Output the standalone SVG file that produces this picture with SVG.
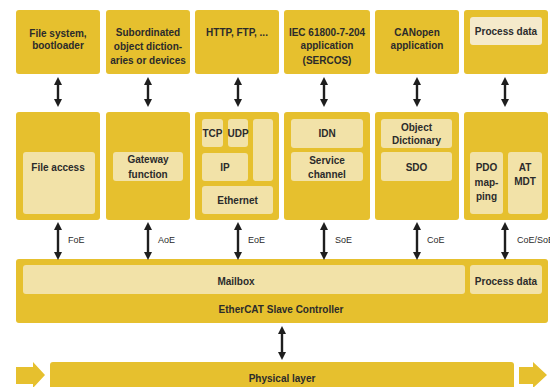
<svg xmlns="http://www.w3.org/2000/svg" width="550" height="387" viewBox="0 0 550 387">
<defs>
<style>
.box{fill:#E6C02E;}
.in{fill:#F2E2A8;}
.in2{fill:#F5EACB;}
text{font-family:"Liberation Sans","DejaVu Sans",sans-serif;font-size:10px;font-weight:bold;fill:#2b2b2b;text-anchor:middle;dominant-baseline:central;}
.lbl{font-weight:normal;font-size:9px;text-anchor:start;}
.arr{stroke:#1e1e1e;stroke-width:2.4;fill:none;marker-start:url(#ah);marker-end:url(#ah);}
</style>
<marker id="ah" markerUnits="userSpaceOnUse" markerWidth="8" markerHeight="8" refX="2" refY="4" orient="auto-start-reverse">
<path d="M0,0 L8,4 L0,8 z" fill="#1e1e1e"/>
</marker>
</defs>
<rect width="550" height="387" fill="#ffffff"/>

<g id="top-filesystem">
<rect class="box" x="16" y="10" width="84" height="64" rx="3"/>
<text x="58" y="33">File system,</text>
<text x="58" y="45">bootloader</text>
</g>
<g id="top-subordinated">
<rect class="box" x="106" y="10" width="84" height="64" rx="3"/>
<text x="148" y="32">Subordinated</text>
<text x="148" y="46">object diction-</text>
<text x="148" y="60">aries or devices</text>
</g>
<g id="top-http">
<rect class="box" x="195" y="10" width="84" height="64" rx="3"/>
<text x="237" y="32">HTTP, FTP, ...</text>
</g>
<g id="top-iec">
<rect class="box" x="284" y="10" width="86" height="64" rx="3"/>
<text x="327" y="32">IEC 61800-7-204</text>
<text x="327" y="45">application</text>
<text x="327" y="60">(SERCOS)</text>
</g>
<g id="top-canopen">
<rect class="box" x="375" y="10" width="84" height="64" rx="3"/>
<text x="417" y="32">CANopen</text>
<text x="417" y="45">application</text>
</g>
<g id="top-processdata">
<rect class="box" x="464" y="10" width="84" height="64" rx="3"/>
<rect class="in2" x="470" y="17" width="72" height="28" rx="3"/>
<text x="506" y="31">Process data</text>
</g>

<g id="mid-fileaccess">
<rect class="box" x="16" y="112" width="84" height="108" rx="3"/>
<rect class="in" x="23" y="152" width="72" height="62" rx="3"/>
<text x="58" y="167">File access</text>
</g>
<g id="mid-gateway">
<rect class="box" x="106" y="112" width="84" height="108" rx="3"/>
<rect class="in" x="113" y="152" width="70" height="29" rx="3"/>
<text x="148" y="159">Gateway</text>
<text x="148" y="174">function</text>
</g>
<g id="mid-eoe">
<rect class="box" x="195" y="112" width="84" height="108" rx="3"/>
<rect class="in" x="202" y="119" width="21" height="28" rx="3"/>
<text x="212.5" y="133">TCP</text>
<rect class="in" x="228" y="119" width="20" height="28" rx="3"/>
<text x="238" y="133">UDP</text>
<rect class="in" x="253" y="119" width="20" height="62" rx="3"/>
<rect class="in" x="202" y="153" width="46" height="28" rx="3"/>
<text x="225" y="167">IP</text>
<rect class="in" x="202" y="186" width="71" height="28" rx="3"/>
<text x="237.5" y="200">Ethernet</text>
</g>
<g id="mid-soe">
<rect class="box" x="284" y="112" width="86" height="108" rx="3"/>
<rect class="in" x="291" y="119" width="72" height="29" rx="3"/>
<text x="327" y="133">IDN</text>
<rect class="in" x="291" y="152" width="72" height="29" rx="3"/>
<text x="327" y="160">Service</text>
<text x="327" y="174">channel</text>
</g>
<g id="mid-coe">
<rect class="box" x="375" y="112" width="84" height="108" rx="3"/>
<rect class="in" x="381" y="119" width="71" height="29" rx="3"/>
<text x="416.5" y="127">Object</text>
<text x="416.5" y="140">Dictionary</text>
<rect class="in" x="381" y="152" width="71" height="29" rx="3"/>
<text x="416.5" y="167">SDO</text>
</g>
<g id="mid-pdo">
<rect class="box" x="464" y="112" width="84" height="108" rx="3"/>
<rect class="in" x="470" y="152" width="33" height="62" rx="3"/>
<text x="486.5" y="167">PDO</text>
<text x="486.5" y="182">map-</text>
<text x="486.5" y="196">ping</text>
<rect class="in" x="508" y="152" width="34" height="62" rx="3"/>
<text x="525" y="167">AT</text>
<text x="525" y="181">MDT</text>
</g>

<g id="controller">
<rect class="box" x="16" y="259" width="532" height="64" rx="3"/>
<rect class="in" x="23" y="265" width="442" height="29" rx="3"/>
<text x="236" y="281">Mailbox</text>
<rect class="in" x="470" y="265" width="72" height="29" rx="3"/>
<text x="506" y="281">Process data</text>
<text x="281" y="309">EtherCAT Slave Controller</text>
</g>

<g id="physical">
<rect class="box" x="50" y="362" width="464" height="30" rx="3"/>
<text x="282" y="378">Physical layer</text>
<path class="box" d="M16,367 L33,367 L33,362 L45,375 L33,388 L33,384 L16,384 z"/>
<path class="box" d="M519,367 L533,367 L533,362 L547,375 L533,388 L533,384 L519,384 z"/>
</g>

<g id="connectors">
<line class="arr" x1="58" y1="83" x2="58" y2="101"/>
<line class="arr" x1="148" y1="83" x2="148" y2="101"/>
<line class="arr" x1="238" y1="83" x2="238" y2="101"/>
<line class="arr" x1="324" y1="83" x2="324" y2="101"/>
<line class="arr" x1="417" y1="83" x2="417" y2="101"/>
<line class="arr" x1="505" y1="83" x2="505" y2="101"/>
<line class="arr" x1="58" y1="228" x2="58" y2="254"/>
<line class="arr" x1="148" y1="228" x2="148" y2="254"/>
<line class="arr" x1="238" y1="228" x2="238" y2="254"/>
<line class="arr" x1="324" y1="228" x2="324" y2="254"/>
<line class="arr" x1="417" y1="228" x2="417" y2="254"/>
<line class="arr" x1="505" y1="228" x2="505" y2="254"/>
<line class="arr" x1="282" y1="332" x2="282" y2="354"/>
<text class="lbl" x="68" y="240">FoE</text>
<text class="lbl" x="158" y="240">AoE</text>
<text class="lbl" x="248" y="240">EoE</text>
<text class="lbl" x="335" y="240">SoE</text>
<text class="lbl" x="427" y="240">CoE</text>
<text class="lbl" x="517" y="240">CoE/SoE</text>
</g>
</svg>
